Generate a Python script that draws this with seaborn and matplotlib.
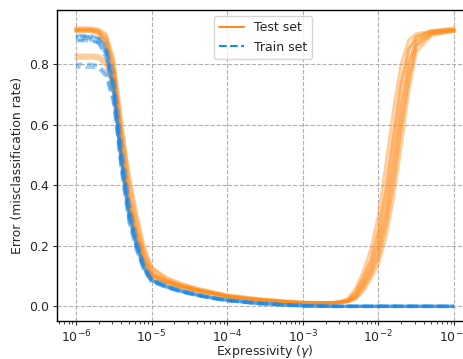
import numpy as np
import pandas as pd
import matplotlib
matplotlib.use("Agg")
import matplotlib.pyplot as plt
from matplotlib.lines import Line2D
import seaborn as sns

# log10 of the expressivity grid
log_gamma = [-6.0, -5.8, -5.7, -5.6, -5.5, -5.4, -5.3, -5.2, -5.1, -5.0,
             -4.8, -4.6, -4.4, -4.2, -4.0, -3.6, -3.2, -3.0, -2.8, -2.6,
             -2.5, -2.4, -2.3, -2.2, -2.1, -2.0, -1.9, -1.8, -1.7, -1.6,
             -1.5, -1.3, -1.0]

test_runs = [
    [0.920, 0.920, 0.916, 0.900, 0.820, 0.620, 0.420, 0.290, 0.185, 0.125, 0.090, 0.072, 0.058, 0.047, 0.036, 0.024,
     0.016, 0.013, 0.012,
     0.013, 0.016, 0.026, 0.060, 0.115, 0.190, 0.300, 0.470, 0.650, 0.800, 0.880, 0.900, 0.910, 0.920],
    [0.910, 0.910, 0.905, 0.870, 0.760, 0.540, 0.350, 0.240, 0.155, 0.105, 0.082, 0.066, 0.054, 0.044, 0.033, 0.022,
     0.015, 0.012, 0.011,
     0.012, 0.014, 0.018, 0.035, 0.075, 0.125, 0.200, 0.320, 0.480, 0.660, 0.800, 0.875, 0.905, 0.915],
    [0.830, 0.830, 0.828, 0.810, 0.730, 0.520, 0.340, 0.230, 0.150, 0.102, 0.080, 0.064, 0.052, 0.042, 0.032, 0.021,
     0.014, 0.012, 0.011,
     0.011, 0.013, 0.016, 0.028, 0.062, 0.105, 0.165, 0.270, 0.410, 0.590, 0.750, 0.860, 0.900, 0.910],
    [0.915, 0.915, 0.912, 0.890, 0.800, 0.600, 0.440, 0.310, 0.200, 0.130, 0.095, 0.075, 0.060, 0.049, 0.038, 0.026,
     0.017, 0.014, 0.013,
     0.011, 0.012, 0.015, 0.024, 0.050, 0.090, 0.140, 0.230, 0.360, 0.530, 0.710, 0.840, 0.895, 0.910],
    [0.820, 0.820, 0.818, 0.795, 0.710, 0.500, 0.330, 0.225, 0.145, 0.100, 0.078, 0.062, 0.050, 0.041, 0.031, 0.021,
     0.014, 0.012, 0.011,
     0.012, 0.015, 0.022, 0.048, 0.095, 0.155, 0.250, 0.390, 0.570, 0.740, 0.850, 0.890, 0.910, 0.915],
    [0.912, 0.912, 0.900, 0.850, 0.720, 0.490, 0.320, 0.215, 0.140, 0.098, 0.076, 0.061, 0.050, 0.040, 0.031, 0.020,
     0.014, 0.011, 0.010,
     0.012, 0.014, 0.019, 0.037, 0.078, 0.128, 0.205, 0.325, 0.490, 0.665, 0.805, 0.878, 0.905, 0.910],
    [0.908, 0.908, 0.903, 0.875, 0.775, 0.560, 0.370, 0.255, 0.165, 0.110, 0.084, 0.068, 0.055, 0.045, 0.034, 0.023,
     0.015, 0.012, 0.011,
     0.011, 0.013, 0.016, 0.029, 0.064, 0.108, 0.170, 0.275, 0.420, 0.600, 0.755, 0.862, 0.900, 0.910],
    [0.916, 0.916, 0.910, 0.880, 0.790, 0.570, 0.380, 0.260, 0.170, 0.112, 0.085, 0.068, 0.055, 0.045, 0.034, 0.023,
     0.015, 0.012, 0.011,
     0.012, 0.015, 0.021, 0.046, 0.092, 0.150, 0.245, 0.385, 0.560, 0.735, 0.848, 0.890, 0.910, 0.915],
]

train_tail = [0, 0, 0, 0, 0, 0, 0, 0, 0, 0, 0, 0, 0, 0]
train_runs = [
    [0.895, 0.895, 0.885, 0.850, 0.730, 0.500, 0.320, 0.210, 0.130, 0.088, 0.066, 0.051, 0.039, 0.029, 0.021, 0.011,
     0.005, 0.003, 0.001] + train_tail,
    [0.880, 0.880, 0.872, 0.835, 0.710, 0.480, 0.300, 0.200, 0.125, 0.085, 0.064, 0.049, 0.037, 0.028, 0.020, 0.010,
     0.004, 0.002, 0.001] + train_tail,
    [0.800, 0.800, 0.795, 0.770, 0.680, 0.470, 0.300, 0.200, 0.125, 0.085, 0.064, 0.049, 0.037, 0.028, 0.020, 0.010,
     0.004, 0.002, 0.001] + train_tail,
    [0.790, 0.790, 0.787, 0.760, 0.670, 0.460, 0.290, 0.195, 0.122, 0.083, 0.063, 0.048, 0.036, 0.027, 0.019, 0.010,
     0.004, 0.002, 0.001] + train_tail,
    [0.890, 0.890, 0.886, 0.860, 0.760, 0.540, 0.350, 0.230, 0.140, 0.092, 0.069, 0.053, 0.041, 0.030, 0.022, 0.012,
     0.005, 0.003, 0.002] + train_tail,
    [0.885, 0.885, 0.870, 0.820, 0.690, 0.450, 0.280, 0.185, 0.118, 0.082, 0.062, 0.047, 0.036, 0.027, 0.019, 0.009,
     0.004, 0.002, 0.001] + train_tail,
    [0.892, 0.892, 0.884, 0.845, 0.720, 0.490, 0.310, 0.205, 0.128, 0.087, 0.065, 0.050, 0.038, 0.028, 0.020, 0.010,
     0.005, 0.002, 0.001] + train_tail,
    [0.878, 0.878, 0.870, 0.838, 0.715, 0.485, 0.305, 0.203, 0.127, 0.086, 0.065, 0.050, 0.038, 0.028, 0.020, 0.010,
     0.004, 0.002, 0.001] + train_tail,
]

set_labels = ["Test set", "Train set"]
colors = {"Test set": "#ff8c1a", "Train set": "#1e88e5"}

rows = []
for label, runs in zip(set_labels, [test_runs, train_runs]):
    for r, vals in enumerate(runs):
        for lg, v in zip(log_gamma, vals):
            rows.append({"gamma": 10 ** lg, "error": v, "set": label, "run": r})
df = pd.DataFrame(rows)

sns.set_style("ticks")
plt.rcParams["font.family"] = ["DejaVu Sans"]

fig = plt.figure(figsize=(4.64, 3.59), dpi=100)
ax = fig.add_axes([0.1228, 0.107, 0.8966, 0.865])

test_df = df[df["set"] == "Test set"]
sns.lineplot(data=test_df, x="gamma", y="error", units="run",
             estimator=None, color=colors["Test set"], alpha=0.42, lw=2.3, ax=ax, legend=False)

train_df = df[df["set"] == "Train set"]
for r in sorted(train_df["run"].unique()):
    sns.lineplot(data=train_df[train_df["run"] == r], x="gamma", y="error",
                 estimator=None, color=colors["Train set"], alpha=0.42, lw=2.4, ax=ax, legend=False,
                 linestyle=(r * 0.55, (3, 1.5)))

ax.set_xscale("log")
ax.set_xlim(10 ** -6.25, 10 ** -0.75)
ax.set_ylim(-0.047, 0.979)
ax.set_yticks([0.0, 0.2, 0.4, 0.6, 0.8])
ax.grid(True, which="major", linestyle="--", color="#b0b0b0", linewidth=0.8)
ax.tick_params(axis="both", which="major", labelsize=9, direction="out", length=3, width=0.8, pad=2.5)
ax.tick_params(axis="x", which="minor", direction="out", length=2, width=0.6)
ax.set_xlabel("Expressivity ($\\gamma$)", fontsize=9, labelpad=-1)
ax.set_ylabel("Error (misclassification rate)", fontsize=9)
for s in ax.spines.values():
    s.set_linewidth(1.0)
    s.set_color("black")

handles = [Line2D([], [], color=colors["Test set"], lw=1.5),
           Line2D([], [], color=colors["Train set"], lw=1.5, linestyle="--")]
ax.legend(handles, set_labels, loc="upper center", bbox_to_anchor=(0.495, 1.0), fontsize=9, frameon=True)

fig.savefig("out.png", dpi=100)
